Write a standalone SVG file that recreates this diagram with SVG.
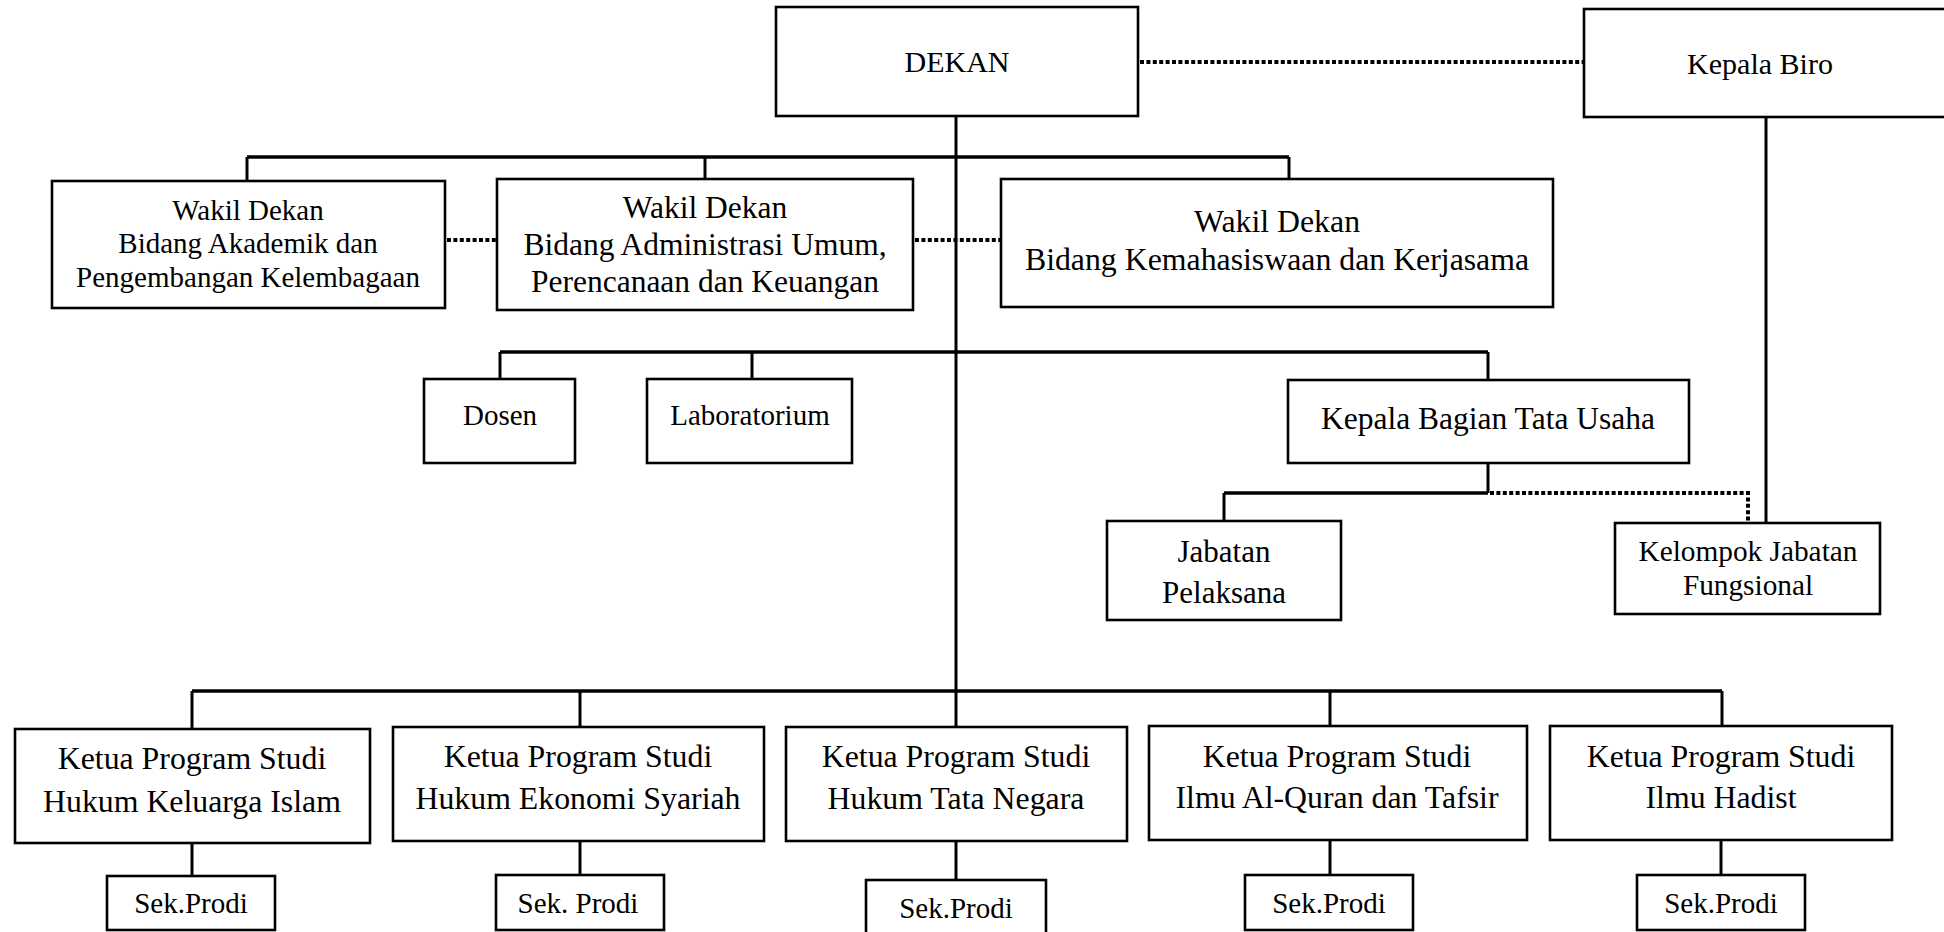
<svg xmlns="http://www.w3.org/2000/svg" width="1944" height="932" viewBox="0 0 1944 932">
<style>
.box{fill:#fff;stroke:#000;stroke-width:2.6}
.t{font-family:"Liberation Serif","Times New Roman",serif;fill:#000;text-anchor:middle}
.bus{stroke:#000;stroke-width:3.6;fill:none}
.ln{stroke:#000;stroke-width:3;fill:none}
.dot{stroke:#000;stroke-width:4;stroke-dasharray:4 2.4;fill:none}
</style>
<rect width="1944" height="932" fill="#fff"/>
<g id="connectors">
<line class="ln" x1="956" y1="116" x2="956" y2="691"/>
<line class="bus" x1="247" y1="157" x2="1289" y2="157"/>
<line class="ln" x1="247" y1="157" x2="247" y2="181"/>
<line class="ln" x1="705" y1="157" x2="705" y2="179"/>
<line class="ln" x1="1289" y1="157" x2="1289" y2="179"/>
<line class="bus" x1="500" y1="352" x2="1488" y2="352"/>
<line class="ln" x1="500" y1="352" x2="500" y2="379"/>
<line class="ln" x1="752" y1="352" x2="752" y2="379"/>
<line class="ln" x1="1488" y1="352" x2="1488" y2="380"/>
<line class="ln" x1="1488" y1="463" x2="1488" y2="493"/>
<line class="bus" x1="1224" y1="493" x2="1488" y2="493"/>
<line class="ln" x1="1224" y1="493" x2="1224" y2="521"/>
<polyline class="dot" points="1490,493 1748,493 1748,521"/>
<line class="ln" x1="1766" y1="117" x2="1766" y2="523"/>
<line class="dot" x1="1140" y1="62" x2="1584" y2="62"/>
<line class="dot" x1="447" y1="240" x2="497" y2="240"/>
<line class="dot" x1="915" y1="240" x2="1001" y2="240"/>
<line class="bus" x1="192" y1="691" x2="1722" y2="691"/>
<line class="ln" x1="192" y1="691" x2="192" y2="729"/>
<line class="ln" x1="580" y1="691" x2="580" y2="727"/>
<line class="ln" x1="956" y1="691" x2="956" y2="727"/>
<line class="ln" x1="1330" y1="691" x2="1330" y2="726"/>
<line class="ln" x1="1722" y1="691" x2="1722" y2="726"/>
<line class="ln" x1="192" y1="843" x2="192" y2="876"/>
<line class="ln" x1="580" y1="841" x2="580" y2="875"/>
<line class="ln" x1="956" y1="841" x2="956" y2="880"/>
<line class="ln" x1="1330" y1="840" x2="1330" y2="875"/>
<line class="ln" x1="1721" y1="840" x2="1721" y2="875"/>
</g>
<g id="dekan"><rect class="box" x="776" y="7" width="362" height="109"/><text class="t" x="957" y="72" font-size="30">DEKAN</text></g>
<g id="kepala-biro"><rect class="box" x="1584" y="9" width="364" height="108"/><text class="t" x="1760" y="74" font-size="30">Kepala Biro</text></g>
<g id="wd1"><rect class="box" x="52" y="181" width="393" height="127"/><text class="t" font-size="29"><tspan x="248" y="220">Wakil Dekan</tspan><tspan x="248" y="253">Bidang Akademik dan</tspan><tspan x="248" y="287">Pengembangan Kelembagaan</tspan></text></g>
<g id="wd2"><rect class="box" x="497" y="179" width="416" height="131"/><text class="t" font-size="31.5"><tspan x="705" y="218">Wakil Dekan</tspan><tspan x="705" y="255">Bidang Administrasi Umum,</tspan><tspan x="705" y="292">Perencanaan dan Keuangan</tspan></text></g>
<g id="wd3"><rect class="box" x="1001" y="179" width="552" height="128"/><text class="t" font-size="31.8"><tspan x="1277" y="232">Wakil Dekan</tspan><tspan x="1277" y="270">Bidang Kemahasiswaan dan Kerjasama</tspan></text></g>
<g id="dosen"><rect class="box" x="424" y="379" width="151" height="84"/><text class="t" x="500" y="425" font-size="29">Dosen</text></g>
<g id="laboratorium"><rect class="box" x="647" y="379" width="205" height="84"/><text class="t" x="750" y="425" font-size="29">Laboratorium</text></g>
<g id="kabag-tu"><rect class="box" x="1288" y="380" width="401" height="83"/><text class="t" x="1488" y="429" font-size="31.5">Kepala Bagian Tata Usaha</text></g>
<g id="jabatan-pelaksana"><rect class="box" x="1107" y="521" width="234" height="99"/><text class="t" font-size="31"><tspan x="1224" y="562">Jabatan</tspan><tspan x="1224" y="603">Pelaksana</tspan></text></g>
<g id="kelompok-jf"><rect class="box" x="1615" y="523" width="265" height="91"/><text class="t" font-size="29.3"><tspan x="1748" y="561">Kelompok Jabatan</tspan><tspan x="1748" y="595">Fungsional</tspan></text></g>
<g id="kps-hki"><rect class="box" x="15" y="729" width="355" height="114"/><text class="t" font-size="31.8"><tspan x="192" y="769">Ketua Program Studi</tspan><tspan x="192" y="812">Hukum Keluarga Islam</tspan></text></g>
<g id="kps-hes"><rect class="box" x="393" y="727" width="371" height="114"/><text class="t" font-size="31.8"><tspan x="578" y="767">Ketua Program Studi</tspan><tspan x="578" y="809">Hukum Ekonomi Syariah</tspan></text></g>
<g id="kps-htn"><rect class="box" x="786" y="727" width="341" height="114"/><text class="t" font-size="31.8"><tspan x="956" y="767">Ketua Program Studi</tspan><tspan x="956" y="809">Hukum Tata Negara</tspan></text></g>
<g id="kps-iat"><rect class="box" x="1149" y="726" width="378" height="114"/><text class="t" font-size="31.8"><tspan x="1337" y="767">Ketua Program Studi</tspan><tspan x="1337" y="808">Ilmu Al-Quran dan Tafsir</tspan></text></g>
<g id="kps-ih"><rect class="box" x="1550" y="726" width="342" height="114"/><text class="t" font-size="31.8"><tspan x="1721" y="767">Ketua Program Studi</tspan><tspan x="1721" y="808">Ilmu Hadist</tspan></text></g>
<g id="sek-hki"><rect class="box" x="107" y="876" width="168" height="54"/><text class="t" x="191" y="913" font-size="29">Sek.Prodi</text></g>
<g id="sek-hes"><rect class="box" x="496" y="875" width="168" height="55"/><text class="t" x="578" y="913" font-size="29">Sek. Prodi</text></g>
<g id="sek-htn"><rect class="box" x="866" y="880" width="180" height="58"/><text class="t" x="956" y="918" font-size="29">Sek.Prodi</text></g>
<g id="sek-iat"><rect class="box" x="1245" y="875" width="168" height="55"/><text class="t" x="1329" y="913" font-size="29">Sek.Prodi</text></g>
<g id="sek-ih"><rect class="box" x="1637" y="875" width="168" height="55"/><text class="t" x="1721" y="913" font-size="29">Sek.Prodi</text></g>
</svg>
